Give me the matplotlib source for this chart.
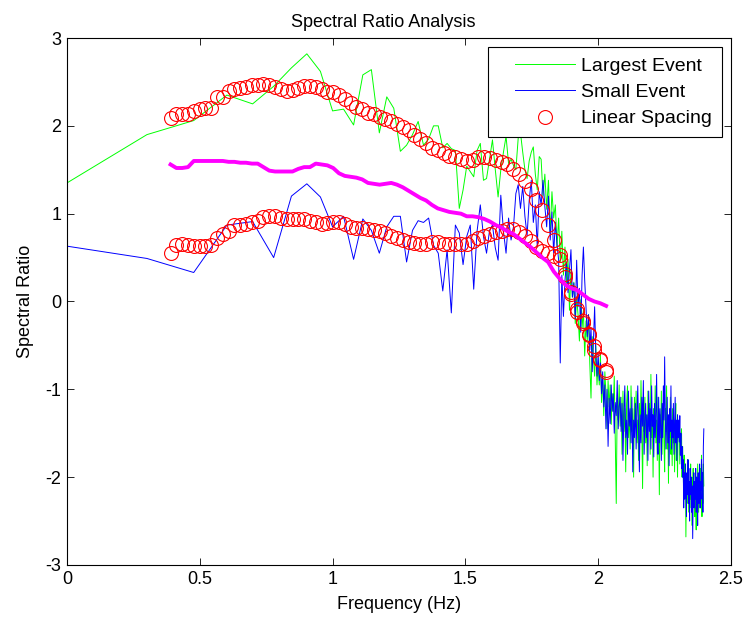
import numpy as np
import matplotlib
matplotlib.use('Agg')
import matplotlib.pyplot as plt
from matplotlib.lines import Line2D
from matplotlib.legend_handler import HandlerLine2D

plt.rcParams['font.family'] = ['Liberation Sans', 'DejaVu Sans']
plt.rcParams['axes.unicode_minus'] = False

# frequency index of the spectra (plotted as log10)
freq_index = np.arange(1, 251)

# Largest Event spectral ratio, one value per frequency index
largest_event = [
    1.35, 1.90, 2.06, 2.35, 2.25, 2.45, 2.66, 2.82, 2.62, 2.17,
    2.19, 2.01, 2.58, 2.64, 1.92, 2.33, 2.20, 1.71, 1.78, 1.90,
    2.05, 1.78, 1.85, 2.00, 2.00, 1.75, 1.80, 1.74, 1.72, 1.06,
    1.27, 1.54, 1.48, 1.42, 1.72, 1.80, 1.38, 1.40, 1.62, 1.84,
    1.50, 1.19, 1.50, 1.70, 1.88, 1.57, 1.62, 1.55, 1.50, 1.86,
    1.92, 1.70, 1.50, 1.40, 1.60, 1.70, 1.76, 1.45, 1.27, 1.65,
    1.62, 1.20, 1.45, 1.05, 1.38, 0.78, 1.25, 0.95, 1.10, 0.62,
    0.95, 0.45, 0.80, 0.30, 0.62, 0.20, 0.48, -0.10, 0.35, 0.05,
    0.22, -0.25, 0.05, -0.15, -0.45, 0.02, -0.30, -0.10, -0.62, -0.22,
    -0.45, -0.15, -0.70, -1.10, -0.40, -0.65, -0.85, -0.50, -0.95, -0.72,
    -0.95, -0.60, -1.15, -0.85, -1.30, -0.80, -1.05, -1.45, -0.90, -1.20,
    -0.95, -1.40, -1.05, -1.25, -0.85, -1.60, -2.30, -1.10, -1.35, -0.95,
    -1.42, -1.09, -1.74, -1.02, -1.48, -1.22, -1.94, -1.16, -0.96, -1.55,
    -1.29, -1.68, -0.96, -1.48, -1.22, -2.00, -1.09, -1.42, -1.02, -1.61,
    -1.35, -1.81, -1.16, -1.55, -0.90, -1.42, -2.13, -1.22, -1.48, -1.09,
    -1.61, -1.29, -1.87, -1.02, -1.42, -1.16, -1.74, -0.83, -1.55, -1.29,
    -2.00, -1.22, -1.48, -0.96, -1.61, -1.35, -1.81, -1.09, -1.42, -2.20,
    -1.29, -1.55, -1.02, -1.74, -1.35, -1.16, -1.61, -1.94, -1.22, -1.48,
    -0.96, -1.68, -1.35, -2.07, -1.29, -1.55, -1.09, -1.74, -1.42, -1.87,
    -1.22, -1.61, -1.35, -1.94, -1.48, -1.16, -1.81, -1.55, -2.00, -1.42,
    -1.55, -1.40, -1.85, -1.50, -1.70, -1.45, -2.00, -1.65, -1.90, -2.20,
    -1.75, -2.10, -1.85, -2.68, -2.00, -2.30, -1.80, -2.15, -1.95, -2.40,
    -2.05, -2.25, -1.85, -2.35, -2.00, -2.55, -2.10, -1.90, -2.30, -2.05,
    -2.45, -1.95, -2.20, -2.60, -2.00, -2.30, -1.85, -2.15, -2.40, -2.05,
    -2.25, -1.90, -2.35, -2.10, -1.75, -2.45, -2.00, -2.30, -1.85, -2.10,
]

# Small Event spectral ratio
small_event = [
    0.63, 0.49, 0.33, 0.87, 0.91, 0.50, 1.20, 1.34, 1.19, 0.85,
    0.97, 0.48, 0.94, 0.81, 0.55, 0.85, 0.97, 0.97, 0.45, 0.81,
    0.92, 0.90, 0.95, 0.64, 0.55, 0.12, 0.59, -0.13, 0.87, 0.78,
    0.42, 0.74, 0.87, 0.14, 0.80, 1.10, 0.74, 0.55, 0.81, 0.87,
    0.61, 0.47, 1.21, 0.80, 0.55, 0.95, 0.70, 0.85, 1.23, 1.33,
    1.06, 1.31, 0.97, 0.75, 1.15, 1.38, 0.90, 1.10, 0.62, 1.25,
    1.10, 1.38, 1.08, 0.85, 1.20, 0.70, 1.02, 0.55, 0.90, 0.65,
    0.47, -0.70, 0.30, -0.17, 0.24, 0.45, 0.10, 0.36, 0.59, 0.05,
    0.21, -0.20, 0.47, -0.06, 0.15, -0.35, 0.30, 0.62, 0.24, -0.06,
    -0.40, -0.15, -0.55, -0.30, -0.80, -0.45, -0.06, -0.59, -0.85, -0.60,
    -0.90, -0.70, -1.05, -0.80, -1.20, -0.95, -1.45, -1.00, -1.65, -1.10,
    -1.39, -0.95, -1.25, -1.05, -1.50, -1.15, -1.30, -0.90, -1.45, -1.20,
    -1.09, -1.48, -1.16, -1.81, -1.29, -0.96, -1.55, -1.35, -1.74, -1.02,
    -1.42, -1.22, -1.61, -1.09, -1.94, -1.35, -1.55, -1.16, -1.68, -1.29,
    -0.96, -1.48, -1.94, -1.29, -1.61, -1.09, -1.42, -0.90, -1.74, -1.35,
    -1.16, -1.55, -1.29, -1.81, -1.02, -1.48, -1.22, -1.68, -0.96, -1.42,
    -1.29, -1.77, -1.16, -1.55, -1.35, -0.83, -1.48, -1.74, -1.09, -1.61,
    -1.22, -1.42, -1.81, -1.16, -1.55, -0.96, -1.35, -0.63, -1.29, -1.68,
    -1.42, -1.09, -1.61, -1.29, -1.87, -1.22, -1.48, -0.96, -1.68, -1.35,
    -1.55, -1.16, -1.74, -1.42, -1.09, -1.61, -1.35, -1.81, -1.29, -1.55,
    -1.35, -1.60, -1.30, -1.75, -1.50, -1.90, -1.65, -2.00, -1.80, -2.35,
    -1.95, -2.25, -1.85, -2.10, -2.45, -1.95, -2.20, -1.80, -2.30, -2.05,
    -2.50, -1.90, -2.20, -2.00, -2.40, -2.10, -2.70, -2.15, -1.95, -2.35,
    -2.05, -2.25, -1.90, -2.40, -2.00, -2.20, -2.55, -1.95, -2.30, -2.10,
    -1.85, -2.35, -2.05, -2.25, -1.80, -2.15, -1.95, -2.40, -1.65, -1.45,
]

# linearly spaced resampling (red circles) and the averaged curve (magenta)
lin_freq = np.linspace(0.39, 2.03, 76)
lin_largest = [
    2.09, 2.13, 2.14, 2.14, 2.17, 2.19, 2.20, 2.20, 2.33, 2.33,
    2.40, 2.42, 2.43, 2.44, 2.46, 2.47, 2.48, 2.46, 2.44, 2.42,
    2.40, 2.41, 2.43, 2.45, 2.45, 2.44, 2.42, 2.39, 2.38, 2.35,
    2.30, 2.26, 2.22, 2.19, 2.15, 2.13, 2.10, 2.08, 2.05, 2.02,
    1.99, 1.95, 1.89, 1.85, 1.80, 1.75, 1.72, 1.69, 1.66, 1.64,
    1.62, 1.60, 1.61, 1.64, 1.65, 1.63, 1.61, 1.59, 1.56, 1.51,
    1.45, 1.37, 1.28, 1.16, 1.04, 0.87, 0.70, 0.53, 0.28, 0.08,
    -0.12, -0.25, -0.38, -0.55, -0.67, -0.80,
]
lin_small = [
    0.55, 0.64, 0.65, 0.64, 0.63, 0.63, 0.63, 0.64, 0.72, 0.77,
    0.80, 0.87, 0.87, 0.88, 0.91, 0.92, 0.96, 0.97, 0.97, 0.95,
    0.94, 0.94, 0.94, 0.94, 0.92, 0.90, 0.88, 0.89, 0.91, 0.91,
    0.88, 0.85, 0.84, 0.84, 0.82, 0.81, 0.80, 0.78, 0.75, 0.72,
    0.70, 0.68, 0.67, 0.66, 0.66, 0.68, 0.68, 0.66, 0.65, 0.66,
    0.66, 0.66, 0.69, 0.72, 0.75, 0.77, 0.79, 0.80, 0.82, 0.83,
    0.79, 0.75, 0.69, 0.62, 0.58, 0.55, 0.52, 0.48, 0.31, 0.11,
    -0.08, -0.22, -0.37, -0.51, -0.66, -0.78,
]
avg_ratio = [
    1.56, 1.52, 1.52, 1.53, 1.60, 1.60, 1.60, 1.60, 1.60, 1.60,
    1.59, 1.59, 1.58, 1.58, 1.57, 1.57, 1.53, 1.49, 1.48, 1.48,
    1.48, 1.48, 1.51, 1.53, 1.53, 1.57, 1.56, 1.55, 1.52, 1.46,
    1.43, 1.42, 1.41, 1.39, 1.35, 1.34, 1.33, 1.34, 1.35, 1.33,
    1.30, 1.26, 1.22, 1.18, 1.15, 1.10, 1.06, 1.04, 1.02, 1.01,
    1.00, 0.97, 0.97, 0.96, 0.94, 0.91, 0.87, 0.84, 0.80, 0.77,
    0.72, 0.67, 0.62, 0.56, 0.50, 0.45, 0.34, 0.26, 0.19, 0.15,
    0.13, 0.08, 0.03, 0.00, -0.02, -0.05,
]

fig = plt.figure(figsize=(7.46, 6.17), dpi=100)
ax = fig.add_axes([0.0898, 0.0843, 0.8900, 0.8541])

x = np.log10(freq_index)
ax.plot(x, largest_event, color='#00ff00', lw=0.7, label='Largest Event')
ax.plot(x, small_event, color='#0000ff', lw=0.7, label='Small Event')
ax.plot(lin_freq, lin_largest, 'o', mfc='none', mec='#ff0000', ms=10, mew=0.8,
        label='Linear Spacing')
ax.plot(lin_freq, lin_small, 'o', mfc='none', mec='#ff0000', ms=10, mew=0.8)
ax.plot(lin_freq, avg_ratio, color='#ff00ff', lw=2.8)

ax.set_xlim(0, 2.5)
ax.set_ylim(-3, 3)
ax.set_xticks([0, 0.5, 1, 1.5, 2, 2.5])
ax.set_xticklabels(['0', '0.5', '1', '1.5', '2', '2.5'])
ax.set_yticks([-3, -2, -1, 0, 1, 2, 3])
ax.tick_params(direction='in', top=True, right=True, length=5, labelsize=13,
               width=0.6, pad=4)
for s in ax.spines.values():
    s.set_linewidth(0.8)

ax.set_title('Spectral Ratio Analysis', fontsize=13, pad=8, x=0.476)
ax.set_xlabel('Frequency (Hz)', fontsize=13, labelpad=6)
ax.set_ylabel('Spectral Ratio', fontsize=13, labelpad=8)

leg = ax.legend(loc='upper right', fontsize=14, handlelength=4.0,
                handletextpad=0.3, fancybox=False, framealpha=1,
                edgecolor='black', borderaxespad=0.48, labelspacing=0.45,
                borderpad=0.5,
                handler_map={Line2D: HandlerLine2D(xpad=0.93)})
leg.get_frame().set_linewidth(0.8)

fig.savefig('out.png', dpi=100)
